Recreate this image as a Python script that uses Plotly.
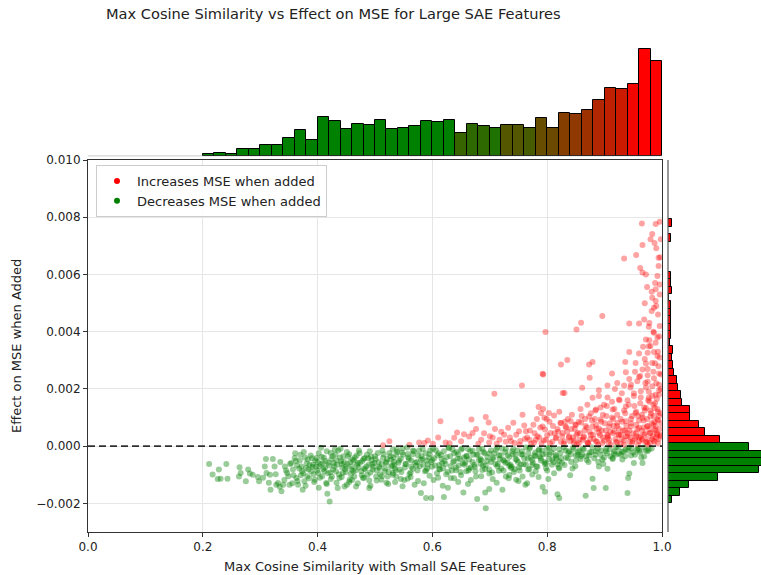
import numpy as np
import plotly.graph_objects as go

# ---------------- data ----------------
# Top marginal histogram: max cosine similarity (40 bins of width 0.02 starting at 0.20)
cos_bin_start = 0.20
cos_bin_width = 0.02
cos_counts = [1, 2, 1, 5, 5, 8, 8, 13, 19, 12, 29, 26, 20, 24, 23, 27, 20, 21, 22, 26,
              25, 27, 17, 24, 22, 21, 23, 23, 21, 28, 21, 32, 31, 34, 42, 51, 50, 54, 80, 71]
# share of "increases MSE" features in each bin (drives the green->red bar colour)
cos_red_share = [0, 0, 0, 0, 0, 0, 0, 0, 0, 0, 0, 0, 0, 0, 0, 0, 0, 0, 0, 0,
                 0, 0, 0.22, 0.18, 0.18, 0.12, 0.33, 0.33, 0.28, 0.40,
                 0.42, 0.52, 0.56, 0.62, 0.70, 0.75, 0.80, 0.95, 1.0, 1.0]

# Right marginal histogram: effect on MSE (38 bins, listed from the lowest bin upward)
mse_bin_start = -0.00199
mse_bin_width = 0.000261
mse_counts = [4, 13, 23, 55, 101, 109, 111, 90, 58, 41, 34, 24, 24, 16, 14, 11, 10, 7, 6,
              4, 6, 2, 3, 3, 3, 3, 3, 1, 4, 3, 3, 0, 0, 0, 0, 3, 0, 4]

# Scatter: features that increase MSE when added (x = max cos sim, y in units of 1e-3)
inc_x = [0.514, 0.525, 0.577, 0.586, 0.601, 0.614, 0.623, 0.638, 0.643, 0.650, 0.664, 0.668, 0.670,
         0.676, 0.685, 0.693, 0.698, 0.699, 0.708, 0.709, 0.717, 0.725, 0.732, 0.737, 0.743, 0.751,
         0.756, 0.757, 0.763, 0.769, 0.776, 0.780, 0.785, 0.789, 0.792, 0.793, 0.795, 0.798, 0.803,
         0.806, 0.812, 0.818, 0.824, 0.827, 0.792,
         0.830, 0.861, 0.879, 0.890, 0.905, 0.922, 0.934, 0.946, 0.957, 0.971, 0.983, 0.995,
         0.925, 0.870, 0.885, 0.899, 0.914, 0.937, 0.951, 0.963, 0.977, 0.989, 0.972, 0.987,
         0.954, 0.966, 0.980, 0.992, 0.823, 0.832, 0.841, 0.850, 0.859, 0.873, 0.879, 0.893,
         0.908, 0.922, 0.937, 0.946, 0.960, 0.974, 0.987,
         0.827, 0.838, 0.853, 0.864, 0.876, 0.890, 0.905, 0.917, 0.928, 0.940, 0.955, 0.969, 0.980, 0.992,
         0.830, 0.847, 0.856, 0.870, 0.885, 0.896, 0.908, 0.922, 0.934, 0.948, 0.960, 0.974, 0.985,
         0.990, 0.985, 0.993, 0.978, 0.995, 0.975, 0.965, 0.955, 0.945, 0.935, 0.925, 0.915, 0.905,
         0.895, 0.885, 0.875, 0.865, 0.855, 0.845, 0.835,
         0.965, 0.989, 0.996, 0.983, 0.980, 0.998, 0.966, 0.990, 0.955, 0.934, 0.994, 0.962, 0.966,
         0.972, 0.992, 0.974, 0.989, 0.996, 0.983, 0.970, 0.989, 0.986, 0.982, 0.969, 0.977, 0.960,
         0.943, 0.896, 0.859, 0.851, 0.797, 0.986, 0.995, 0.972, 0.989, 0.967, 0.977, 0.986, 0.960,
         0.975, 0.943, 0.992, 0.936, 0.954, 0.972, 0.983, 0.994, 0.835, 0.824, 0.873, 0.879, 0.913,
         0.937, 0.966, 0.943, 0.793, 0.874, 0.960, 0.975, 0.986, 0.995,
         0.700, 0.712, 0.720, 0.728, 0.735, 0.741, 0.746, 0.753, 0.760, 0.765, 0.772, 0.778, 0.782,
         0.786, 0.790, 0.796, 0.800, 0.804, 0.809, 0.813, 0.816, 0.821, 0.826, 0.829, 0.833, 0.836,
         0.840, 0.843, 0.848, 0.851, 0.855, 0.858, 0.862, 0.866, 0.869, 0.872, 0.876, 0.880, 0.883,
         0.887, 0.890, 0.893, 0.897, 0.900, 0.903, 0.907, 0.910, 0.913, 0.916, 0.919, 0.922, 0.925,
         0.928, 0.931, 0.934, 0.937, 0.940, 0.943, 0.946, 0.949, 0.952, 0.955, 0.958, 0.960, 0.963,
         0.965, 0.968, 0.970, 0.972, 0.975, 0.977, 0.979, 0.981, 0.983, 0.985, 0.987, 0.989, 0.991,
         0.993, 0.995, 0.997, 0.998, 0.962, 0.975, 0.988, 0.996, 0.980, 0.992, 0.970, 0.985, 0.993,
         0.978, 0.996, 0.988, 0.994, 0.975, 0.953, 0.945, 0.930, 0.918, 0.905, 0.890,
         0.560, 0.592, 0.610, 0.630, 0.655, 0.680, 0.690, 0.705,
         0.846, 0.849, 0.852, 0.857, 0.860, 0.863, 0.867, 0.871, 0.874, 0.878, 0.881, 0.884, 0.886,
         0.889, 0.892, 0.894, 0.897, 0.899, 0.902, 0.904, 0.906, 0.909, 0.911, 0.913, 0.915, 0.917,
         0.920, 0.922, 0.924, 0.926, 0.928, 0.930, 0.932, 0.934, 0.936, 0.938, 0.940, 0.942, 0.944,
         0.946, 0.948, 0.950, 0.951, 0.953, 0.955, 0.957, 0.958, 0.960, 0.962, 0.963, 0.965, 0.966,
         0.968, 0.969, 0.971, 0.972, 0.974, 0.975, 0.976, 0.978, 0.979, 0.980, 0.982, 0.983, 0.984,
         0.986, 0.987, 0.988, 0.989, 0.990, 0.991, 0.992, 0.993, 0.994, 0.995, 0.996, 0.997, 0.998,
         0.998, 0.999,
         0.752, 0.761, 0.770, 0.777, 0.783, 0.788, 0.794, 0.799, 0.805, 0.810, 0.815, 0.819, 0.824,
         0.831, 0.838, 0.842,
         0.985, 0.993, 0.978, 0.996, 0.990, 0.982, 0.997, 0.987]
inc_y = [0.03, 0.17, 0.13, 0.11, 0.08, 0.87, 0.13, 0.29, 0.48, 0.17, 0.34, 0.93, 0.46,
         0.60, 0.22, 1.02, 0.83, 0.13, 1.83, 0.60, 0.22, 0.40, 0.64, 0.17, 0.11, 0.52,
         2.12, 1.10, 0.52, 0.22, 0.75, 0.22, 1.37, 1.16, 0.69, 1.30, 0.99, 0.22, 1.16,
         0.46, 1.07, 0.60, 0.81, 1.86, 2.53,
         1.86, 2.04, 1.69, 1.75, 2.12, 2.21, 2.12, 2.15, 2.27, 2.21, 2.09, 2.15,
         1.63, 1.45, 1.28, 1.45, 1.28, 1.39, 1.75, 1.92, 1.69, 1.80, 1.33, 1.33,
         1.16, 0.99, 1.04, 0.93, 0.81, 0.69, 0.87, 0.75, 0.83, 1.04, 0.69, 0.93,
         0.69, 0.81, 0.87, 0.69, 0.64, 0.69, 0.58,
         0.46, 0.34, 0.46, 0.34, 0.40, 0.46, 0.40, 0.52, 0.40, 0.46, 0.34, 0.40, 0.46, 0.40,
         0.17, 0.11, 0.22, 0.13, 0.17, 0.11, 0.22, 0.13, 0.20, 0.11, 0.17, 0.13, 0.19,
         0.30, 0.75, 1.20, 1.55, 1.95, 0.05, 0.25, 0.45, 0.30, 0.55, 0.40, 0.95, 0.30,
         0.55, 0.75, 0.25, 0.55, 0.10, 0.30, 0.50,
         7.78, 7.76, 7.84, 7.41, 7.23, 7.23, 7.03, 6.92, 6.68, 6.56, 6.58, 6.23, 6.07,
         6.00, 5.95, 5.56, 5.48, 5.65, 5.19, 4.99, 5.07, 4.84, 4.72, 4.43, 4.17, 4.29,
         4.29, 4.55, 4.31, 4.08, 3.99, 3.96, 3.84, 3.73, 3.61, 3.47, 3.49, 3.29, 3.24,
         3.26, 3.29, 3.15, 2.94, 2.91, 2.89, 2.91, 2.79, 3.01, 2.85, 2.85, 2.94, 2.54,
         2.58, 2.68, 2.35, 2.50, 2.39, 2.42, 2.48, 2.37, 2.54,
         0.35, 0.08, 0.50, 0.15, 0.30, 0.82, 0.40, 0.18, 0.72, 0.30, 0.08, 0.45, 0.95,
         0.30, 0.10, 0.58, 0.38, 0.85, 0.15, 0.45, 0.28, 1.20, 0.35, 0.08, 0.65, 0.95,
         0.18, 1.10, 0.60, 0.40, 0.85, 1.30, 0.22, 0.95, 0.65, 0.08, 1.15, 0.40, 0.95,
         0.15, 0.62, 1.35, 0.30, 0.80, 1.05, 0.12, 0.50, 1.55, 0.70, 0.25, 1.10, 0.60,
         0.08, 0.85, 1.25, 0.35, 1.60, 0.55, 0.95, 0.18, 1.40, 0.75, 1.05, 0.30, 1.70,
         0.55, 0.90, 1.25, 0.15, 0.70, 1.90, 0.45, 1.15, 0.25, 1.45, 0.85, 0.55, 1.65,
         0.10, 1.05, 0.40, 2.00, 2.45, 2.70, 2.90, 3.10, 3.50, 3.80, 3.05, 4.00, 4.60,
         4.30, 5.30, 5.70, 6.30, 2.25, 2.60, 2.05, 1.85, 2.00, 1.70, 1.95,
         0.05, 0.20, 0.30, 0.10, 0.42, 0.08, 0.45, 0.30,
         0.20, 0.75, 0.05, 0.45, 1.05, 0.30, 0.70, 0.12, 0.50, 0.90, 0.25, 1.25, 0.60,
         0.05, 0.38, 0.85, 1.10, 0.20, 0.55, 1.40, 0.35, 0.80, 0.05, 1.00, 0.45, 1.30,
         0.15, 0.70, 0.40, 1.60, 0.95, 0.25, 0.55, 0.05, 1.15, 0.70, 0.35, 1.45, 0.15,
         0.80, 1.05, 0.45, 1.85, 0.25, 1.20, 0.60, 0.05, 0.90, 1.50, 0.35, 1.10, 0.20,
         0.65, 1.35, 0.45, 2.05, 0.95, 0.25, 1.60, 0.60, 0.10, 1.25, 0.80, 1.75, 0.35,
         1.05, 0.15, 1.50, 0.70, 2.20, 0.45, 1.30, 0.90, 0.25, 1.80, 0.60, 1.15, 0.35,
         2.50, 0.80,
         0.05, 0.25, 0.55, 0.12, 0.35, 0.65, 0.20, 0.95, 0.10, 0.70, 0.30, 0.50, 0.15,
         0.85, 0.30, 0.60,
         2.60, 3.30, 3.70, 4.20, 4.90, 5.40, 6.60, 7.10]

# Scatter: features that decrease MSE when added
dec_x = [0.211, 0.217, 0.228, 0.231, 0.241, 0.243, 0.226, 0.264, 0.263, 0.266, 0.275, 0.279, 0.282,
         0.287, 0.296, 0.298, 0.308, 0.310, 0.311, 0.317, 0.318, 0.322, 0.325, 0.328, 0.331, 0.337,
         0.340, 0.343, 0.347, 0.351, 0.354, 0.357, 0.360, 0.363, 0.366, 0.370, 0.372, 0.374, 0.377,
         0.380, 0.383, 0.389, 0.392, 0.395, 0.398, 0.401, 0.403, 0.406, 0.409, 0.412, 0.415, 0.417,
         0.421, 0.423, 0.425, 0.428, 0.430, 0.432, 0.435, 0.438, 0.440, 0.441, 0.444, 0.447, 0.450,
         0.453, 0.456, 0.459, 0.461, 0.464, 0.467, 0.470, 0.473, 0.476, 0.479, 0.482, 0.485, 0.487,
         0.490, 0.493, 0.496, 0.499, 0.502, 0.505, 0.508, 0.511, 0.514, 0.517, 0.519, 0.522, 0.525,
         0.528, 0.531,
         0.580, 0.589, 0.598, 0.620, 0.654, 0.678, 0.693, 0.692, 0.699, 0.722, 0.746, 0.757, 0.762,
         0.792, 0.796, 0.780, 0.818, 0.821, 0.627, 0.632, 0.557, 0.537, 0.551, 0.569, 0.667, 0.676,
         0.659, 0.728, 0.737,
         0.531, 0.548, 0.566, 0.583, 0.606, 0.629, 0.650, 0.670, 0.687, 0.711, 0.728, 0.748, 0.769,
         0.786, 0.803, 0.821,
         0.537, 0.557, 0.575, 0.595, 0.615, 0.638, 0.659, 0.679, 0.699, 0.719, 0.740, 0.757, 0.780,
         0.798, 0.815,
         0.528, 0.545, 0.563, 0.583, 0.600, 0.621, 0.644, 0.664, 0.685, 0.705, 0.725, 0.745, 0.766,
         0.789, 0.809, 0.824,
         0.534, 0.554, 0.572, 0.592, 0.612, 0.632, 0.653, 0.673, 0.693, 0.714, 0.734, 0.754, 0.774,
         0.798, 0.818,
         0.543, 0.566, 0.589, 0.612, 0.641, 0.664, 0.687, 0.716, 0.743, 0.769, 0.798,
         0.531, 0.560, 0.595, 0.624, 0.650, 0.699, 0.734, 0.774, 0.812,
         0.879, 0.881, 0.867, 0.902, 0.890, 0.905, 0.940, 0.941, 0.943, 0.951, 0.966, 0.969, 0.946,
         0.821, 0.821, 0.844, 0.830, 0.850, 0.861, 0.873, 0.896, 0.914, 0.925, 0.937, 0.960, 0.931,
         0.885, 0.856, 0.838, 0.902, 0.917, 0.977,
         0.335, 0.345, 0.352, 0.358, 0.362, 0.368, 0.375, 0.378, 0.382, 0.386, 0.390, 0.393, 0.397,
         0.400, 0.404, 0.407, 0.410, 0.414, 0.418, 0.420, 0.424, 0.427, 0.431, 0.434, 0.437, 0.439,
         0.443, 0.446, 0.449, 0.452, 0.455, 0.458, 0.460, 0.463, 0.466, 0.468, 0.471, 0.474, 0.477,
         0.480, 0.483, 0.486, 0.489, 0.492, 0.494, 0.497, 0.500, 0.503, 0.506, 0.509, 0.512, 0.515,
         0.518, 0.521, 0.524, 0.527, 0.530, 0.533, 0.536, 0.539,
         0.541, 0.547, 0.552, 0.558, 0.562, 0.568, 0.573, 0.578, 0.581, 0.587, 0.590, 0.596, 0.599,
         0.603, 0.608, 0.611, 0.617, 0.619, 0.625, 0.628, 0.634, 0.636, 0.642, 0.646, 0.649, 0.655,
         0.657, 0.662, 0.667, 0.671, 0.675, 0.681, 0.684, 0.689, 0.692, 0.696, 0.702, 0.704, 0.708,
         0.713, 0.717, 0.721, 0.724, 0.727, 0.731, 0.736, 0.739, 0.742, 0.747, 0.751, 0.755, 0.759,
         0.763, 0.767, 0.771, 0.775, 0.779, 0.783, 0.787, 0.791, 0.795, 0.800, 0.804, 0.808, 0.811,
         0.816, 0.820, 0.823, 0.826, 0.829, 0.833, 0.837, 0.842, 0.846, 0.849, 0.853, 0.858, 0.862,
         0.868, 0.872, 0.877, 0.882, 0.888, 0.893, 0.898, 0.903, 0.910, 0.916, 0.920, 0.928, 0.933,
         0.942, 0.950, 0.958, 0.964, 0.972,
         0.455, 0.490, 0.520, 0.545, 0.575, 0.610, 0.645, 0.705, 0.750, 0.785,
         0.361, 0.364, 0.369, 0.373, 0.376, 0.381, 0.384, 0.388, 0.391, 0.396, 0.399, 0.402, 0.405,
         0.411, 0.413, 0.416, 0.419, 0.422, 0.426, 0.429, 0.433, 0.436, 0.442, 0.445, 0.448, 0.451,
         0.457, 0.462, 0.465, 0.469, 0.472, 0.478, 0.481, 0.488, 0.491, 0.495, 0.501, 0.507, 0.513,
         0.520,
         0.532, 0.535, 0.538, 0.542, 0.546, 0.549, 0.553, 0.556, 0.559, 0.563, 0.566, 0.570, 0.574,
         0.577, 0.580, 0.584, 0.588, 0.591, 0.594, 0.598, 0.601, 0.605, 0.609, 0.613, 0.616, 0.620,
         0.623, 0.627, 0.631, 0.635, 0.638, 0.641, 0.645, 0.648, 0.652, 0.656, 0.660, 0.663, 0.666,
         0.670, 0.674, 0.677, 0.681, 0.684, 0.688, 0.691, 0.695, 0.699, 0.702, 0.706, 0.710, 0.713,
         0.716, 0.720, 0.723, 0.727, 0.731, 0.734, 0.738, 0.741, 0.745, 0.749, 0.752, 0.756, 0.760,
         0.763, 0.767, 0.770, 0.774, 0.778, 0.781, 0.785, 0.789, 0.792, 0.796, 0.800, 0.803, 0.807,
         0.811, 0.815,
         0.832, 0.836, 0.841, 0.845, 0.850, 0.854, 0.859, 0.864, 0.869, 0.874, 0.879, 0.884, 0.889,
         0.894, 0.899, 0.904, 0.909, 0.914, 0.919, 0.924, 0.930, 0.936, 0.941, 0.947, 0.953, 0.957,
         0.962, 0.968, 0.975, 0.982,
         0.305, 0.315, 0.327, 0.334, 0.342, 0.349, 0.356, 0.365, 0.371, 0.379, 0.385, 0.394, 0.402,
         0.408, 0.416, 0.423, 0.433, 0.442, 0.451, 0.460, 0.470, 0.481, 0.492, 0.503, 0.512, 0.523,
         0.535, 0.548, 0.562, 0.585, 0.602, 0.618, 0.638, 0.662, 0.685, 0.712, 0.733, 0.765, 0.802,
         0.840]
dec_y = [-0.62, -0.99, -0.82, -1.14, -0.62, -1.14, -1.15, -0.74, -1.06, -0.94, -1.23, -0.82, -0.96,
         -1.00, -1.08, -1.23, -0.71, -0.45, -0.94, -1.00, -1.52, -0.45, -0.71, -1.35, -1.29, -1.58,
         -1.35, -0.71, -0.94, -1.35, -0.59, -0.82, -0.41, -1.11, -1.35, -0.30, -0.71, -1.52, -1.23,
         -0.76, -0.47, -0.88, -0.65, -1.17, -0.41, -0.94, -0.71, -0.06, -0.59, -0.88, -1.29, -1.66,
         -1.93, -0.24, -1.06, -0.59, -0.12, -0.88, -1.46, -1.11, -0.09, -0.53, -0.94, -1.41, -0.71,
         -0.36, -1.17, -0.82, -0.47, -1.06, -1.41, -0.59, -0.24, -0.88, -1.11, -0.41, -0.71, -1.00,
         -1.46, -0.36, -0.82, -0.59, -1.06, -0.24, -0.76, -1.17, -0.41, -0.88, -0.59, -1.06, -0.24,
         -0.71, -0.94,
         -1.64, -1.81, -1.81, -1.78, -1.62, -1.85, -2.17, -1.62, -1.50, -1.52, -1.17, -1.06, -1.35,
         -1.43, -1.59, -0.88, -1.68, -1.81, -1.45, -1.11, -1.14, -1.06, -1.18, -1.35, -1.18, -1.06,
         -0.88, -1.06, -0.76,
         -0.12, -0.08, -0.15, -0.10, -0.14, -0.07, -0.12, -0.16, -0.09, -0.13, -0.10, -0.15, -0.08,
         -0.12, -0.06, -0.11,
         -0.30, -0.27, -0.33, -0.28, -0.31, -0.25, -0.34, -0.29, -0.26, -0.32, -0.28, -0.30, -0.35,
         -0.27, -0.31,
         -0.47, -0.44, -0.50, -0.45, -0.48, -0.52, -0.43, -0.47, -0.49, -0.45, -0.51, -0.46, -0.44,
         -0.50, -0.47, -0.42,
         -0.65, -0.62, -0.68, -0.63, -0.66, -0.70, -0.61, -0.65, -0.67, -0.62, -0.69, -0.64, -0.66,
         -0.60, -0.63,
         -0.82, -0.79, -0.85, -0.80, -0.84, -0.78, -0.83, -0.86, -0.81, -0.80, -0.77,
         -1.00, -0.97, -1.03, -0.98, -1.02, -0.96, -1.01, -0.99, -0.95,
         -1.14, -1.46, -1.73, -1.46, -0.71, -0.79, -1.64, -1.11, -0.96, -0.59, -0.59, -0.36, -0.33,
         -0.78, -0.53, -0.78, -0.66, -0.33, -0.29, -0.33, -0.47, -0.41, -0.26, -0.12, -0.15, -0.47,
         -0.18, -0.15, -0.18, -0.18, -0.18, -0.12,
         -0.55, -0.85, -0.62, -1.02, -0.52, -0.78, -0.95, -0.40, -1.05, -0.66, -0.42, -0.98, -0.72,
         -0.55, -1.10, -0.38, -0.80, -0.52, -0.95, -0.68, -0.45, -0.82, -0.30, -0.65, -0.98, -0.40,
         -0.75, -0.55, -0.90, -0.62, -0.28, -0.98, -0.70, -0.50, -0.85, -0.33, -0.75, -0.58, -1.02,
         -0.45, -0.82, -0.30, -0.65, -0.92, -0.48, -0.72, -0.35, -0.85, -0.55, -0.98, -0.62, -0.28,
         -0.78, -0.45, -0.90, -0.35, -0.68, -0.55, -0.85, -0.20,
         -0.58, -0.22, -0.75, -0.40, -0.92, -0.18, -0.55, -0.70, -0.35, -0.88, -0.50, -0.15, -0.72,
         -0.42, -0.95, -0.25, -0.60, -0.78, -0.38, -0.05, -0.85, -0.55, -0.20, -0.68, -0.90, -0.40,
         -0.58, -0.10, -0.75, -0.30, -0.88, -0.48, -0.62, -0.20, -0.80, -0.38, -0.55, -0.92, -0.25,
         -0.70, -0.45, -0.08, -0.85, -0.58, -0.32, -0.65, -0.18, -0.90, -0.48, -0.75, -0.28, -0.62,
         -0.05, -0.82, -0.40, -0.58, -0.22, -0.72, -0.35, -0.15, -0.55, -0.85, -0.28, -0.65, -0.10,
         -0.42, -0.75, -0.25, -0.58, -0.05, -0.40, -0.22, -0.55, -0.12, -0.70, -0.30, -0.45, -0.08,
         -0.35, -0.55, -0.20, -0.42, -0.10, -0.30, -0.62, -0.08, -0.35, -0.25, -0.05, -0.30, -0.18,
         -0.05, -0.22, -0.08, -0.40, -0.15,
         -1.25, -1.20, -1.28, -1.15, -1.22, -1.10, -1.25, -1.15, -1.22, -1.08,
         -0.25, -0.68, -0.50, -0.88, -0.20, -0.60, -0.82, -0.33, -0.72, -0.50, -0.85, -0.25, -0.62,
         -0.40, -0.75, -0.18, -0.58, -0.92, -0.35, -0.70, -0.50, -0.15, -0.62, -0.35, -0.80, -0.20,
         -0.55, -0.88, -0.40, -0.65, -0.15, -0.52, -0.78, -0.42, -0.18, -0.62, -0.45, -0.72, -0.15,
         -0.55,
         -0.40, -0.78, -0.12, -0.50, -0.90, -0.30, -0.62, -0.05, -0.45, -0.72, -0.28, -0.58, -0.85,
         -0.15, -0.48, -0.65, -0.25, -0.78, -0.40, -0.55, -0.10, -0.68, -0.32, -0.82, -0.45, -0.18,
         -0.62, -0.90, -0.35, -0.12, -0.52, -0.75, -0.28, -0.45, -0.08, -0.65, -0.35, -0.85, -0.18,
         -0.55, -0.72, -0.30, -0.10, -0.45, -0.68, -0.25, -0.52, -0.82, -0.15, -0.40, -0.62, -0.05,
         -0.32, -0.78, -0.48, -0.20, -0.58, -0.38, -0.72, -0.10, -0.30, -0.55, -0.85, -0.18, -0.42,
         -0.65, -0.25, -0.05, -0.48, -0.32, -0.70, -0.15, -0.42, -0.28, -0.62, -0.08, -0.45, -0.22,
         -0.55, -0.35,
         -0.15, -0.42, -0.28, -0.05, -0.50, -0.20, -0.35, -0.12, -0.48, -0.22, -0.05, -0.30, -0.55,
         -0.15, -0.40, -0.25, -0.10, -0.45, -0.30, -0.05, -0.20, -0.35, -0.15, -0.08, -0.30, -0.12,
         -0.22, -0.05, -0.18, -0.08,
         -1.10, -1.28, -0.98, -1.42, -1.18, -1.05, -1.30, -1.22, -1.02, -1.38, -1.12, -1.25, -1.45,
         -1.05, -1.32, -1.15, -1.28, -1.08, -1.35, -1.18, -1.30, -1.10, -1.38, -1.20, -1.05, -1.32,
         -1.25, -1.40, -1.08, -1.30, -1.18, -1.38, -1.12, -1.32, -1.05, -1.28, -1.12, -1.30, -1.15,
         -1.02]

x_ticks = [0.0, 0.2, 0.4, 0.6, 0.8, 1.0]
x_tick_labels = ["0.0", "0.2", "0.4", "0.6", "0.8", "1.0"]
y_ticks = [-0.002, 0.0, 0.002, 0.004, 0.006, 0.008, 0.010]
y_tick_labels = ["\u22120.002", "0.000", "0.002", "0.004", "0.006", "0.008", "0.010"]

# ---------------- figure ----------------
W, H = 761, 575
def px_x(p):
    return p / W
def px_y(p):
    return 1 - p / H

GREEN = (0, 128, 0)
RED = (255, 0, 0)
def blend(s):
    r = GREEN[0] + (RED[0] - GREEN[0]) * s
    g = GREEN[1] + (RED[1] - GREEN[1]) * s
    b = GREEN[2] + (RED[2] - GREEN[2]) * s
    return f"rgb({r:.0f},{g:.0f},{b:.0f})"

fig = go.Figure()

# scatter
fig.add_trace(go.Scatter(x=inc_x, y=np.array(inc_y) * 1e-3, mode="markers",
                         marker=dict(color="rgb(255,0,0)", size=6, opacity=0.36, line=dict(width=0)),
                         showlegend=False, xaxis="x", yaxis="y"))
fig.add_trace(go.Scatter(x=dec_x, y=np.array(dec_y) * 1e-3, mode="markers",
                         marker=dict(color="rgb(0,128,0)", size=6, opacity=0.4, line=dict(width=0)),
                         showlegend=False, xaxis="x", yaxis="y"))
# zero reference line
fig.add_trace(go.Scatter(x=[0, 1], y=[0, 0], mode="lines",
                         line=dict(color="rgba(0,0,0,0.8)", width=1.7, dash="7px,4px"),
                         showlegend=False, hoverinfo="skip", xaxis="x", yaxis="y"))
# legend entries
fig.add_trace(go.Scatter(x=[None], y=[None], mode="markers", name="Increases MSE when added",
                         marker=dict(color="rgb(255,0,0)", size=6), xaxis="x", yaxis="y"))
fig.add_trace(go.Scatter(x=[None], y=[None], mode="markers", name="Decreases MSE when added",
                         marker=dict(color="rgb(0,128,0)", size=6), xaxis="x", yaxis="y"))

# top histogram
cos_centers = [cos_bin_start + cos_bin_width * (i + 0.5) for i in range(len(cos_counts))]
fig.add_trace(go.Bar(x=cos_centers, y=cos_counts, width=cos_bin_width,
                     marker=dict(color=[blend(s) for s in cos_red_share], line=dict(color="black", width=1)),
                     showlegend=False, xaxis="x2", yaxis="y2"))

# right histogram
mse_centers = [mse_bin_start + mse_bin_width * (i + 0.5) for i in range(len(mse_counts))]
mse_colors = ["rgb(255,0,0)" if c > 0 else "rgb(0,128,0)" for c in mse_centers]
fig.add_trace(go.Bar(y=mse_centers, x=mse_counts, width=mse_bin_width, orientation="h",
                     marker=dict(color=mse_colors, line=dict(color="black", width=1)),
                     showlegend=False, xaxis="x3", yaxis="y3"))

main_x_dom = [px_x(88), px_x(662)]
main_y_dom = [px_y(532), px_y(160)]
tick_font = dict(family="DejaVu Sans", size=12, color="#222")
hidden = dict(showticklabels=False, showgrid=False, zeroline=False, showline=False, ticks="",
              automargin=False)

fig.update_layout(
    width=W, height=H, margin=dict(l=0, r=0, t=0, b=0, autoexpand=False),
    paper_bgcolor="white", plot_bgcolor="white",
    font=dict(family="DejaVu Sans", color="#222"),
    bargap=0,
    xaxis=dict(domain=main_x_dom, range=[0, 1], tickvals=x_ticks, ticktext=x_tick_labels,
               showgrid=True, gridcolor="#e6e6e6", gridwidth=1, zeroline=False,
               showline=True, mirror=True, linecolor="#333", linewidth=1, automargin=False,
               ticks="outside", ticklen=4, tickcolor="#333", tickfont=tick_font),
    yaxis=dict(domain=main_y_dom, range=[-0.003, 0.010], tickvals=y_ticks, ticktext=y_tick_labels,
               showgrid=True, gridcolor="#e6e6e6", gridwidth=1, zeroline=False,
               showline=True, mirror=True, linecolor="#333", linewidth=1, automargin=False,
               ticks="outside", ticklen=4, tickcolor="#333", tickfont=tick_font),
    xaxis2=dict(domain=main_x_dom, range=[0, 1], anchor="y2", **hidden),
    yaxis2=dict(domain=[px_y(155.7), px_y(40)], range=[0, 87], anchor="x2", **hidden),
    xaxis3=dict(domain=[px_x(668), 1.0], range=[0, 103], anchor="y3", **hidden),
    yaxis3=dict(domain=main_y_dom, range=[-0.003, 0.010], anchor="x3", **hidden),
    legend=dict(x=px_x(96), y=px_y(165), xanchor="left", yanchor="top",
                bgcolor="rgba(255,255,255,0.85)", bordercolor="#cccccc", borderwidth=1,
                font=dict(family="DejaVu Sans", size=13, color="#222")),
    shapes=[
        dict(type="line", xref="paper", yref="paper", x0=px_x(88), x1=px_x(662),
             y0=px_y(155.7), y1=px_y(155.7), line=dict(color="#dddddd", width=1.5), layer="below"),
        dict(type="line", xref="paper", yref="paper", x0=px_x(668), x1=px_x(668),
             y0=px_y(532), y1=px_y(160), line=dict(color="#555555", width=1.2)),
    ],
    annotations=[
        dict(text="Max Cosine Similarity vs Effect on MSE for Large SAE Features", xref="paper", yref="paper",
             x=px_x(333), y=px_y(14), xanchor="center", yanchor="middle", showarrow=False,
             font=dict(family="DejaVu Sans", size=14.6, color="#222")),
        dict(text="Max Cosine Similarity with Small SAE Features", xref="paper", yref="paper",
             x=px_x(375), y=px_y(566), xanchor="center", yanchor="middle", showarrow=False,
             font=dict(family="DejaVu Sans", size=13, color="#222")),
        dict(text="Effect on MSE when Added", xref="paper", yref="paper", textangle=-90,
             x=px_x(17), y=px_y(346), xanchor="center", yanchor="middle", showarrow=False,
             font=dict(family="DejaVu Sans", size=13, color="#222")),
    ],
)

fig.write_html("out.html")
